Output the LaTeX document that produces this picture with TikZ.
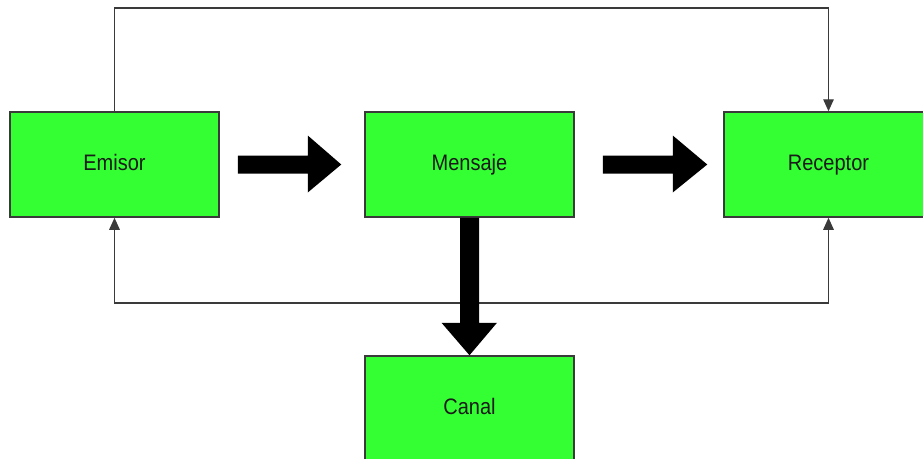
\documentclass[tikz,border=0pt]{standalone}
\usepackage{fontspec}
\setmainfont{Liberation Sans}
\usetikzlibrary{arrows.meta,calc}
\definecolor{boxgreen}{HTML}{33FF33}
\definecolor{linegray}{HTML}{3A3A3A}
\definecolor{textdark}{HTML}{1A1A1A}
\tikzset{
  blockbox/.style={draw=linegray, line width=1.5pt, fill=boxgreen, minimum width=209pt, minimum height=105pt, inner sep=0pt, font=\fontsize{20}{22}\selectfont, text=textdark, text height=16pt, text depth=4pt},
  thinlink/.style={draw=linegray, line width=1.4pt, -{Triangle[width=10.5pt,length=12pt]}},
  fatarrow/.style={draw=none, fill=black}
}
\begin{document}
\begin{tikzpicture}[x=1pt,y=-1pt]
\useasboundingbox (0,0) rectangle (923,458);
\fill[white] (0,0) rectangle (923,458);
\node[blockbox] (emisor) at (114.5,164.5) {\scalebox{1}[1.12]{Emisor}};
\node[blockbox] (mensaje) at (469.5,164.5) {\scalebox{1}[1.12]{Mensaje}};
\node[blockbox] (receptor) at (828.5,164.5) {\scalebox{1}[1.12]{Receptor}};
\node[blockbox] (canal) at (469.5,408.5) {\scalebox{1}[1.12]{Canal}};
% thin feedback lines
\coordinate (top) at (0,8);
\coordinate (bot) at (0,303);
\draw[thinlink] (emisor.north) -- (emisor.north |- top) -- (receptor.north |- top) -- (receptor.north);
\draw[thinlink] (mensaje.south |- bot) -- (emisor.south |- bot) -- (emisor.south);
\draw[thinlink] (mensaje.south |- bot) -- (receptor.south |- bot) -- (receptor.south);
% fat arrows
\fill[fatarrow] ($(emisor.east)+(18,-9)$) -- ++(70,0) -- ++(0,-20) -- ($(mensaje.west)+(-23,0)$) -- ($(emisor.east)+(88,28)$) -- ++(0,-19) -- ($(emisor.east)+(18,9)$) -- cycle;
\fill[fatarrow] ($(mensaje.east)+(28,-9)$) -- ++(70,0) -- ++(0,-20) -- ($(receptor.west)+(-16,0)$) -- ($(mensaje.east)+(98,28)$) -- ++(0,-19) -- ($(mensaje.east)+(28,9)$) -- cycle;
\fill[fatarrow] ($(mensaje.south)+(-9.5,0)$) -- ($(mensaje.south)+(9.5,0)$) -- ++(0,105) -- ++(18,0) -- (canal.north) -- ($(mensaje.south)+(-28,105)$) -- ++(18.5,0) -- cycle;
\end{tikzpicture}
\end{document}
